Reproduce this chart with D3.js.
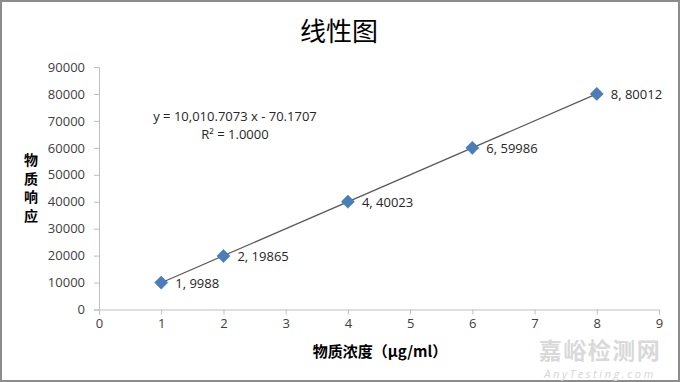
<!DOCTYPE html>
<html><head><meta charset="utf-8">
<script src="https://cdn.jsdelivr.net/npm/d3@7"></script>
<style>html,body{margin:0;padding:0;background:#fff;}svg{display:block;}</style>
</head><body>
<script>
const concentrations = [1, 2, 4, 6, 8];
const responses = [9988, 19865, 40023, 59986, 80012];
const xTicks = [0,1,2,3,4,5,6,7,8,9];
const yTicks = [0,10000,20000,30000,40000,50000,60000,70000,80000,90000];
const slope = 10010.7073, intercept = -70.1707;
const title = "线性图";
const xTitle = "物质浓度（μg/ml）";
const yTitle = ["物","质","响","应"];
const equationLines = ["y = 10,010.7073 x - 70.1707", "R² = 1.0000"];

const W = 680, H = 382;
const svg = d3.select("body").append("svg").attr("width", W).attr("height", H);
svg.append("rect").attr("x",1).attr("y",1).attr("width",W-2).attr("height",H-2)
  .attr("fill","#fff").attr("stroke","#8c8c8c").attr("stroke-width",2);

const x = d3.scaleLinear().domain([0,9]).range([99,659]);
const y = d3.scaleLinear().domain([0,90000]).range([309.5,67]);
const font = "'Open Sans', 'Liberation Sans', sans-serif";
const cjk = "'Noto Sans CJK SC', sans-serif";

svg.append("text").attr("x",339).attr("y",41).attr("text-anchor","middle")
  .attr("font-family",cjk).attr("font-size",26).attr("fill","#000").text(title);

const xAxis = svg.append("g").attr("transform",`translate(0,${y(0)})`)
  .call(d3.axisBottom(x).tickValues(xTicks).tickSize(5).tickPadding(4).tickFormat(d3.format("d")));
const yAxis = svg.append("g").attr("transform",`translate(${x(0)},0)`)
  .call(d3.axisLeft(y).tickValues(yTicks).tickSize(5).tickPadding(9).tickFormat(d3.format("d")));
[xAxis,yAxis].forEach(g=>{
  g.selectAll("path,line").attr("stroke","#bfbfbf").attr("stroke-width",1);
  g.selectAll("text").attr("font-family",font).attr("font-size",13).attr("fill","#404040");
});

// trendline
svg.append("line")
  .attr("x1",x(concentrations[0])).attr("y1",y(slope*concentrations[0]+intercept))
  .attr("x2",x(concentrations[concentrations.length-1])).attr("y2",y(slope*concentrations[concentrations.length-1]+intercept))
  .attr("stroke","#5a5a5a").attr("stroke-width",1.2);

const pts = concentrations.map((c,i)=>({c, r:responses[i]}));
svg.selectAll("path.pt").data(pts).enter().append("path").attr("class","pt")
  .attr("d", d3.symbol().type(d3.symbolDiamond2).size(110))
  .attr("transform", d=>`translate(${x(d.c)},${y(d.r)})`)
  .attr("fill","#4a7ebb").attr("stroke","#3f6fa8").attr("stroke-width",0.5);

svg.selectAll("text.lbl").data(pts).enter().append("text").attr("class","lbl")
  .attr("x", d=>x(d.c)+14).attr("y", d=>y(d.r)+5)
  .attr("font-family",font).attr("font-size",13).attr("fill","#262626")
  .text(d=>`${d.c}, ${d.r}`);

svg.selectAll("text.eq").data(equationLines).enter().append("text").attr("class","eq")
  .attr("x",235).attr("y",(d,i)=>121+i*18).attr("text-anchor","middle")
  .attr("font-family",font).attr("font-size",13).attr("fill","#262626").text(d=>d);

svg.append("text").attr("x",380).attr("y",357).attr("text-anchor","middle")
  .attr("font-family",cjk).attr("font-size",15).attr("font-weight","bold").attr("fill","#000").text(xTitle);

svg.selectAll("text.yt").data(yTitle).enter().append("text").attr("class","yt")
  .attr("x",31).attr("y",(d,i)=>165+i*18.7).attr("text-anchor","middle")
  .attr("font-family",cjk).attr("font-size",14).attr("font-weight","bold").attr("fill","#000").text(d=>d);

// watermark
svg.append("text").attr("x",600).attr("y",359).attr("text-anchor","middle")
  .attr("font-family",cjk).attr("font-size",23).attr("font-weight","bold").attr("letter-spacing",1.5).attr("fill","#d4d4d4").attr("fill-opacity",0.9).text("嘉峪检测网");
svg.append("text").attr("x",600).attr("y",377.5).attr("text-anchor","middle")
  .attr("font-family",font).attr("font-size",11).attr("font-style","italic").attr("letter-spacing",2.6)
  .attr("fill","#d4d4d4").text("AnyTesting.com");
</script>
</body></html>
